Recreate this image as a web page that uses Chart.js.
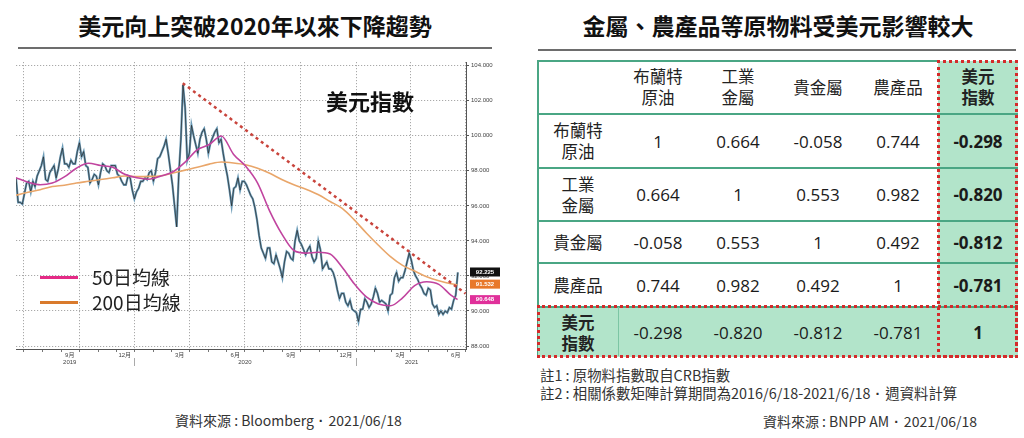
<!DOCTYPE html>
<html>
<head>
<meta charset="utf-8">
<script src="https://cdn.jsdelivr.net/npm/chart.js@4.4.1/dist/chart.umd.min.js"></script>
<style>
body { margin: 0; background: #fff; font-family: 'Noto Sans CJK TC', sans-serif; color: #222; }
#page { position: relative; width: 1024px; height: 438px; overflow: hidden; background: #fff; }
.abs { position: absolute; }
.title { font-size: 23px; font-weight: bold; text-align: center; line-height: 34px; color: #111; }
.rule { height: 2px; background: #6d6d6d; }
#chartBox { left: 0; top: 55px; width: 510px; height: 320px; }
.legtxt { font-size: 19px; line-height: 24px; color: #222; }
.legline { height: 3px; width: 38px; }
#corr { left: 538px; top: 61px; width: 480px; height: 296px; display: grid;
        grid-template-columns: repeat(6, 80px); grid-template-rows: 52px 54px 53px 42px 44px 51px; }
.cell { box-sizing: border-box; display: flex; align-items: center; justify-content: center;
        text-align: center; white-space: pre-line; }
.name { font-size: 16.5px; line-height: 21px; color: #222; }
.num { font-family: 'Open Sans', sans-serif; font-size: 17px; color: #1a1a1a; }
.green { background: #b2e4ca; }
.redbox { box-sizing: border-box; border: 3px dotted #d42a2a; }
.note { font-size: 14.4px; line-height: 18px; color: #333; white-space: nowrap; }
.dot { font-family: 'Liberation Sans', sans-serif; font-weight: bold; padding: 0 5px; }
</style>
</head>
<body>
<div id="page">
  <div class="abs title" style="left:18px;top:8px;width:474px;">美元向上突破2020年以來下降趨勢</div>
  <div class="abs rule" style="left:18px;top:47px;width:474px;"></div>
  <div class="abs title" style="left:538px;top:8px;width:480px;">金屬、農產品等原物料受美元影響較大</div>
  <div class="abs rule" style="left:538px;top:49px;width:478px;"></div>

  <div id="chartBox" class="abs"><canvas id="DXYCHART" width="510" height="320"></canvas></div>
  <div class="abs" style="left:320px;top:86px;width:100px;text-align:center;font-size:22px;font-weight:bold;line-height:28px;color:#111;">美元指數</div>
  <div class="abs legline" style="left:40px;top:276px;background:#e42a86;"></div>
  <div class="abs legtxt" style="left:92px;top:265px;">50日均線</div>
  <div class="abs legline" style="left:40px;top:301px;background:#d97a2c;"></div>
  <div class="abs legtxt" style="left:92px;top:290px;">200日均線</div>
  <div class="abs note" style="left:175px;top:411px;font-size:14px;">資料來源 : Bloomberg<span class="dot">·</span>2021/06/18</div>

  <div class="abs" style="left:538px;top:60px;width:400px;height:2px;background:#4aa684;"></div>
  <div class="abs" style="left:537px;top:60px;width:2px;height:297px;background:#4aa684;"></div>
  <div id="corr" class="abs"></div>
  <div class="abs" style="left:618px;top:307px;width:1px;height:49px;background:#7cc5a4;"></div>
  <div class="abs redbox" style="left:937px;top:60px;width:81px;height:298px;"></div>
  <div class="abs redbox" style="left:537px;top:305px;width:481px;height:53px;"></div>

  <div class="abs note" style="left:540px;top:366px;">註1 : 原物料指數取自CRB指數</div>
  <div class="abs note" style="left:540px;top:384px;">註2 : 相關係數矩陣計算期間為2016/6/18-2021/6/18<span class="dot">·</span>週資料計算</div>
  <div class="abs note" style="left:600px;top:412px;width:377px;text-align:right;font-size:14px;">資料來源 : BNPP AM<span class="dot">·</span>2021/06/18</div>
</div>

<script>
// ---- data: US dollar index, sampled every 3.5 days from 2019/06/18 ----
var startDate = '2019-06-18';
var priceStep = 3.5;
var priceValues = [
    97.6, 96.2, 96.2, 96.1, 96.7, 97.3, 97.4, 96.8, 97.4, 97.1,
    97.7, 98.0, 98.3, 98.8, 97.5, 97.4, 97.9, 98.1, 98.3, 97.6,
    98.1, 98.8, 99.3, 98.4, 98.4, 98.2, 98.6, 98.4, 98.4, 99.1,
    99.6, 98.8, 99.1, 98.3, 98.2, 97.3, 97.5, 97.8, 97.7, 97.2,
    97.9, 98.4, 98.3, 98.0, 97.9, 98.3, 98.3, 98.3, 97.8, 97.7,
    97.4, 97.2, 97.2, 97.7, 97.6, 96.9, 96.4, 96.8, 97.0, 97.4,
    97.4, 97.6, 97.5, 97.9, 98.0, 97.4, 97.9, 98.7, 98.8, 99.1,
    99.4, 99.8, 99.0, 98.1, 97.2, 96.0, 94.8, 97.8, 99.8, 102.9,
    101.6, 98.6, 99.0, 100.6, 100.0, 99.5, 99.0, 99.8, 100.2, 100.4,
    99.8, 99.0, 99.6, 99.9, 100.2, 100.4, 99.6, 99.8, 99.0, 98.3,
    97.7, 96.9, 96.0, 97.0, 97.1, 97.6, 96.9, 97.4, 97.4, 97.2,
    96.9, 96.6, 96.4, 95.9, 95.2, 94.3, 93.6, 93.3, 93.0, 93.6,
    93.6, 92.8, 92.7, 93.2, 92.8, 92.4, 91.9, 92.8, 93.4, 93.3,
    93.0, 92.9, 94.0, 94.6, 94.0, 93.8, 93.5, 93.2, 93.5, 93.7,
    93.1, 92.8, 93.0, 94.0, 93.5, 92.4, 92.6, 92.8, 92.4, 92.4,
    92.2, 91.8, 91.2, 90.7, 91.0, 91.0, 90.5, 90.3, 90.6, 90.1,
    90.0, 89.9, 89.4, 90.1, 90.1, 90.7, 90.5, 90.2, 90.4, 90.8,
    91.3, 91.0, 90.5, 90.6, 90.5, 90.4, 90.0, 90.9, 91.0, 91.9,
    92.2, 91.7, 91.9, 91.9, 92.3, 92.8, 93.3, 92.9, 92.3, 92.0,
    91.8, 91.5, 91.3, 91.0, 90.9, 91.3, 91.2, 90.4, 90.2, 90.3,
    89.8, 90.0, 89.8, 90.0, 89.9, 90.2, 90.1, 90.6, 90.9, 92.2
];

// moving averages, days since start date
var maDays = [0, 20, 40, 60, 80, 100, 120, 140, 160, 180, 200, 220, 240, 260, 280, 300, 320, 340, 360,
    380, 400, 420, 440, 460, 480, 500, 520, 540, 560, 580, 600, 620, 640, 660, 680, 700, 720, 731];
var ma50Values = [97.6, 97.35, 97.2, 97.3, 97.65, 98.15, 98.43, 98.3, 98.2, 97.8, 97.6, 97.52, 97.7, 97.95,
    98.5, 99.2, 99.5, 99.99, 98.95, 98.27, 97.3, 95.7, 94.4, 93.45, 93.3, 93.35, 93.25, 92.5, 91.55,
    90.8, 90.4, 90.3, 90.75, 91.45, 91.67, 91.52, 90.9, 90.65];
var ma200Values = [96.6, 96.78, 96.92, 97.1, 97.18, 97.3, 97.4, 97.5, 97.6, 97.7, 97.67, 97.68, 97.72, 97.88,
    98.04, 98.2, 98.38, 98.5, 98.45, 98.35, 98.15, 97.86, 97.5, 97.2, 96.95, 96.65, 96.25, 95.85, 95.2,
    94.45, 93.75, 93.1, 92.6, 92.28, 91.95, 91.72, 91.55, 91.5];

// downtrend line from the March 2020 high
var trendDays = [276, 744];
var trendValues = [103.0, 91.0];

// last-value tags on the right axis
var tagValues = [92.225, 91.532, 90.648];
var tagColors = ['#111111', '#e8782a', '#e0309a'];

// axis labels
var yTicks = [88, 90, 92, 94, 96, 98, 100, 102, 104];
var labelDates = ['2019-09-15', '2019-12-15', '2020-03-15', '2020-06-15', '2020-07-01',
    '2020-09-15', '2020-12-15', '2021-03-15', '2021-04-03', '2021-06-15'];
var labelLines = [['9月', '2019'], ['12月', ''], ['3月', ''], ['6月', ''], ['', '2020'],
    ['9月', ''], ['12月', ''], ['3月', ''], ['', '2021'], ['6月', '']];
var yearStarts = ['2020-01-01', '2021-01-01'];

// ---- correlation table ----
var assetNames = ['布蘭特\n原油', '工業\n金屬', '貴金屬', '農產品', '美元\n指數'];
var corrRows = [
    [1, 0.664, -0.058, 0.744, -0.298],
    [0.664, 1, 0.553, 0.982, -0.820],
    [-0.058, 0.553, 1, 0.492, -0.812],
    [0.744, 0.982, 0.492, 1, -0.781],
    [-0.298, -0.820, -0.812, -0.781, 1]
];

function dayOf(s) {
    return (Date.parse(s) - Date.parse(startDate)) / 86400000;
}

// month starts for minor ticks, quarter starts get the dotted grid
var monthDays = [];
var quarterDays = [];
for (var yr = 2019; yr <= 2021; yr++) {
    for (var m = 0; m < 12; m++) {
        if ((yr === 2019 && m < 6) || (yr === 2021 && m > 6)) continue;
        var day = (Date.UTC(yr, m, 1) - Date.parse(startDate)) / 86400000;
        monthDays.push(day);
        if (m % 3 === 0) quarterDays.push(day);
    }
}

// build table
var corr = document.getElementById('corr');
for (var r = 0; r <= 5; r++) {
    for (var c = 0; c <= 5; c++) {
        var cell = document.createElement('div');
        cell.className = 'cell';
        if (r > 0) cell.style.borderTop = '2px solid #4aa684';
        var hl = (r === 5 || c === 5);
        if (hl && !(r === 0 && c === 0)) cell.classList.add('green');
        if (r === 0 && c === 0) {
            cell.textContent = '';
        } else if (r === 0 || c === 0) {
            cell.classList.add('name');
            cell.textContent = assetNames[(r === 0 ? c : r) - 1];
            if (hl) cell.style.fontWeight = 'bold';
        } else {
            var v = corrRows[r - 1][c - 1];
            cell.classList.add('num');
            cell.textContent = v === 1 ? '1' : v.toFixed(3);
            if (c === 5) cell.style.fontWeight = 'bold';
        }
        corr.appendChild(cell);
    }
}

Chart.defaults.font.family = "'Liberation Sans', 'Noto Sans CJK TC', sans-serif";

var priceData = priceValues.map((v, i) => ({ x: i * priceStep, y: v }));
var ma50Data = maDays.map((d, i) => ({ x: d, y: ma50Values[i] }));
var ma200Data = maDays.map((d, i) => ({ x: d, y: ma200Values[i] }));
var trendData = trendDays.map((d, i) => ({ x: d, y: trendValues[i] }));

// value tags next to the right axis
var tagPlugin = {
    id: 'lastTags',
    afterDraw: function (chart) {
        var c = chart.ctx;
        var ys = chart.scales.y;
        var x0 = chart.chartArea.right + 4;
        c.save();
        c.font = 'bold 6px Liberation Sans';
        c.textAlign = 'center';
        c.textBaseline = 'middle';
        tagValues.forEach(function (v, i) {
            var y = ys.getPixelForValue(v);
            c.fillStyle = tagColors[i];
            c.fillRect(x0, y - 4.5, 30, 9);
            c.fillStyle = '#fff';
            c.fillText(v.toFixed(3), x0 + 15, y);
        });
        c.restore();
    }
};

var xMin = 0, xMax = 745;
var ctx = document.getElementById('DXYCHART').getContext('2d');
var dxyChart = new Chart(ctx, {
    type: 'line',
    data: {
        datasets: [{
            data: trendData,
            borderColor: '#c9443c',
            borderWidth: 2.5,
            borderDash: [3, 3.5],
            tension: 0
        }, {
            data: ma50Data,
            borderColor: '#c1449f',
            borderWidth: 1.6,
            cubicInterpolationMode: 'monotone'
        }, {
            data: ma200Data,
            borderColor: '#e9a66a',
            borderWidth: 1.6,
            cubicInterpolationMode: 'monotone'
        }, {
            data: priceData,
            borderColor: '#262626',
            borderWidth: 0.7,
            tension: 0
        }, {
            data: priceData,
            borderColor: '#6c9cb8',
            borderWidth: 2.2,
            tension: 0
        }]
    },
    options: {
        responsive: false,
        animation: false,
        layout: { padding: { left: 16, top: 7, right: 0, bottom: 0 } },
        elements: { point: { radius: 0 } },
        plugins: {
            legend: { display: false },
            tooltip: { enabled: false }
        },
        scales: {
            xg: {
                type: 'linear', position: 'bottom', min: xMin, max: xMax, weight: 0,
                afterFit: function (s) { s.height = 0; },
                afterBuildTicks: function (s) { s.ticks = monthDays.map(v => ({ value: v })); },
                ticks: { display: false },
                grid: {
                    color: c => (c.tick && quarterDays.indexOf(c.tick.value) >= 0) ? '#a9a9a9' : 'rgba(0,0,0,0)',
                    tickColor: '#777',
                    tickLength: 3
                },
                border: { display: true, color: '#555', width: 1, dash: [1.2, 1.8] }
            },
            xs: {
                type: 'linear', position: 'bottom', min: xMin, max: xMax, weight: 0,
                afterFit: function (s) { s.height = 0; },
                afterBuildTicks: function (s) { s.ticks = yearStarts.map(v => ({ value: dayOf(v) })); },
                ticks: { display: false },
                grid: {
                    drawOnChartArea: false,
                    tickColor: '#aaa',
                    tickLength: 17,
                    tickBorderDash: [0, 9, 8, 100]
                },
                border: { display: false }
            },
            x: {
                type: 'linear', position: 'bottom', min: xMin, max: xMax, weight: 1,
                afterFit: function (s) { s.height = 26; },
                afterBuildTicks: function (s) { s.ticks = labelDates.map(v => ({ value: dayOf(v) })); },
                grid: { display: false, drawTicks: false },
                border: { display: false },
                ticks: {
                    autoSkip: false,
                    maxRotation: 0,
                    padding: 3,
                    color: '#444',
                    font: { size: 6 },
                    callback: (v, i) => labelLines[i]
                }
            },
            y: {
                type: 'linear', position: 'right', min: 87.83, max: 104.21,
                afterFit: function (s) { s.width = 44; },
                afterBuildTicks: function (s) { s.ticks = yTicks.map(v => ({ value: v })); },
                grid: { color: '#a9a9a9', tickColor: '#555', tickLength: 3 },
                border: { display: true, color: '#555', width: 1, dash: [1.2, 1.8] },
                ticks: {
                    padding: 2,
                    color: '#444',
                    font: { size: 6 },
                    callback: v => v.toFixed(3)
                }
            }
        }
    },
    plugins: [tagPlugin]
});
</script>
</body>
</html>
